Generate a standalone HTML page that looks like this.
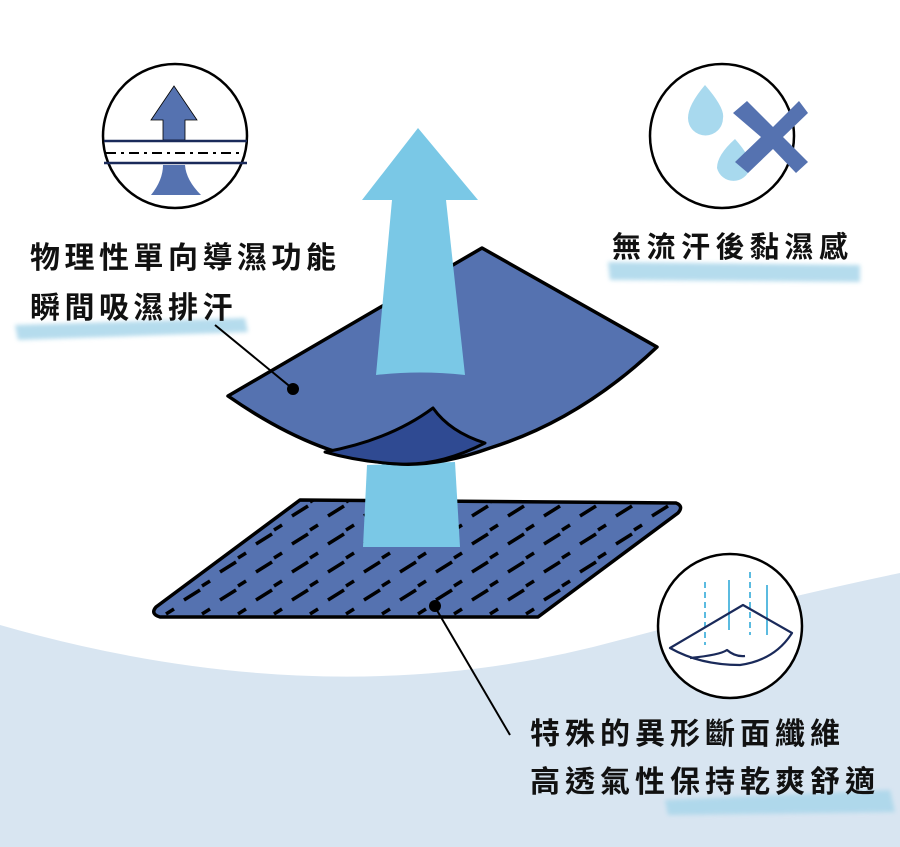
<!DOCTYPE html>
<html><head><meta charset="utf-8"><style>
html,body{margin:0;padding:0;background:#fff}
svg{display:block}
text{font-family:"Liberation Sans","Noto Sans CJK TC",sans-serif;font-weight:bold;fill:#111}
</style></head><body>
<svg width="900" height="847" viewBox="0 0 900 847" xmlns="http://www.w3.org/2000/svg">
<defs>
<pattern id="dash" width="36" height="28" patternUnits="userSpaceOnUse">
<line x1="4" y1="12" x2="20" y2="2" stroke="#000" stroke-width="3.5"/>
<line x1="22" y1="26" x2="30" y2="21" stroke="#000" stroke-width="3.5"/>
</pattern>
<filter id="blur"><feGaussianBlur stdDeviation="2"/></filter>
</defs>
<path d="M0 625 Q330 720 620 640 Q780 598 900 573 L900 847 L0 847 Z" fill="#d8e5f1"/>

<!-- highlights -->
<g filter="url(#blur)" fill="#a9d6ea" opacity="0.85">
<path d="M15 325 L245 318 L248 332 L18 340 Z"/>
<path d="M608 262 L860 265 L860 282 L610 280 Z"/>
<path d="M665 800 L890 790 L895 812 L668 815 Z"/>
</g>

<!-- text -->
<text x="30" y="268" font-size="30" letter-spacing="4.5">物理性單向導濕功能</text>
<text x="30" y="318" font-size="30" letter-spacing="4.5">瞬間吸濕排汗</text>
<text x="612" y="257" font-size="29" letter-spacing="5.5">無流汗後黏濕感</text>
<text x="530" y="744" font-size="30" letter-spacing="5">特殊的異形斷面纖維</text>
<text x="530" y="792" font-size="30" letter-spacing="5">高透氣性保持乾爽舒適</text>

<!-- bottom mat -->
<path d="M300 500 L676 503 Q684 506 678 513 L538 617 L160 617 Q150 614 156 607 Z" fill="#5572b0"/>
<path d="M300 500 L676 503 Q684 506 678 513 L538 617 L160 617 Q150 614 156 607 Z" fill="url(#dash)"/>
<path d="M300 500 L676 503 Q684 506 678 513 L538 617 L160 617 Q150 614 156 607 Z" fill="none" stroke="#000" stroke-width="3.5" stroke-linejoin="round"/>

<!-- lower arrow shaft -->
<path d="M367 465 L455 462 L460 547 L363 547 Z" fill="#7ac8e6"/>

<!-- upper sheet -->
<path d="M228 396 L482 248 L657 347 Q580 420 490 448 Q440 466 400 464 Q320 460 228 396 Z" fill="#5572b0" stroke="#000" stroke-width="3.5" stroke-linejoin="round"/>
<path d="M325 452 Q390 440 433 408 Q450 432 485 443 Q440 466 400 464 Q360 462 325 452 Z" fill="#2f4a92" stroke="#000" stroke-width="3" stroke-linejoin="round"/>

<!-- upper arrow -->
<path d="M418 128 L478 200 L446 200 L465 375 Q420 370 376 375 L392 200 L362 200 Z" fill="#7ac8e6"/>

<!-- leaders -->
<line x1="215" y1="325" x2="293" y2="389" stroke="#000" stroke-width="2"/>
<circle cx="293" cy="389" r="6" fill="#000"/>
<line x1="435" y1="607" x2="510" y2="735" stroke="#000" stroke-width="2"/>
<circle cx="435" cy="606" r="6" fill="#000"/>

<!-- icon 1 -->
<circle cx="175" cy="136" r="72" fill="#fff" stroke="#000" stroke-width="2.5"/>
<path d="M174 86 L197 120 L185 120 L185 140 L163 140 L163 120 L151 120 Z" fill="#5572b0" stroke="#000" stroke-width="0.8"/>
<path d="M163 165 L185 165 Q186 180 201 195 L151 195 Q163 180 163 165 Z" fill="#5572b0"/>
<line x1="104" y1="141" x2="247" y2="141" stroke="#1a2a5a" stroke-width="2.5"/>
<line x1="104" y1="163" x2="247" y2="163" stroke="#1a2a5a" stroke-width="2.5"/>
<line x1="106" y1="153" x2="245" y2="153" stroke="#000" stroke-width="2" stroke-dasharray="10 5 3 5"/>

<!-- icon 2 -->
<circle cx="722" cy="136" r="72" fill="#fff" stroke="#000" stroke-width="2.5"/>
<path d="M705 85 Q725 108 723 118 A17 17 0 0 1 688 118 Q688 105 705 85 Z" fill="#a8d9ee"/>
<path d="M735 139 Q752 158 750 168 A17 17 0 0 1 717 168 Q717 155 735 139 Z" fill="#a8d9ee"/>
<path d="M733 113 L747 101 L773 127 L799 101 L808 113 L783 137 L808 162 L796 173 L773 149 L748 173 L735 162 L761 137 Z" fill="#5572b0"/>

<!-- icon 3 -->
<circle cx="730" cy="626" r="72" fill="#fff" stroke="#000" stroke-width="2.5"/>
<g stroke="#5bbbe0" stroke-width="2">
<line x1="705" y1="582" x2="705" y2="645" stroke-dasharray="6 4"/>
<line x1="729" y1="580" x2="729" y2="630"/>
<line x1="750" y1="572" x2="750" y2="635" stroke-dasharray="6 4"/>
<line x1="767" y1="585" x2="767" y2="635"/>
</g>
<path d="M670 648 L743 605 L792 633 Q775 660 740 665 Q700 665 670 648 Z M690 658 Q720 655 727 650 Q735 657 745 656" fill="none" stroke="#1a2a5a" stroke-width="2.2" stroke-linejoin="round"/>
</svg>
</body></html>
